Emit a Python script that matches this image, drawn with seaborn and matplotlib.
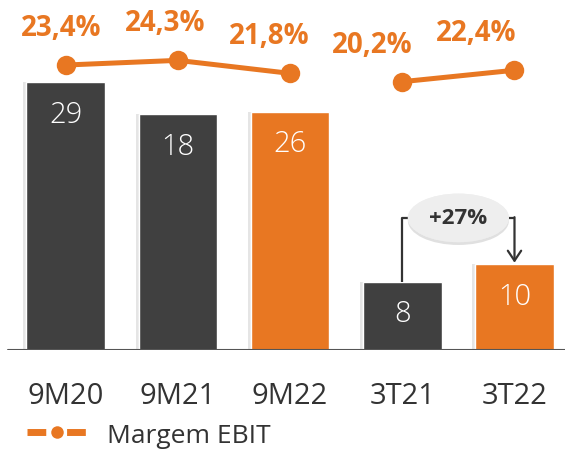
import numpy as np
import pandas as pd
import matplotlib
matplotlib.use("Agg")
import matplotlib.pyplot as plt
import matplotlib.patheffects as pe
from matplotlib.lines import Line2D
import seaborn as sns

# dados
periodos = ["9M20", "9M21", "9M22", "3T21", "3T22"]
ebit = [29, 18, 26, 8, 10]                      # rótulos das barras
altura = [29.0, 25.5, 25.8, 7.4, 9.3]           # altura visual das barras
margem = [23.4, 24.3, 21.8, 20.2, 22.4]         # Margem EBIT (%)
grupo = ["9M", "9M", "9M", "3T", "3T"]
destaque = [False, False, True, False, True]
variacao = "+27%"

laranja = "#E87722"
cinza = "#404040"
texto = "#333333"

sns.set_theme(style="white")
plt.rcParams["font.family"] = ["Open Sans", "DejaVu Sans"]

df = pd.DataFrame({"periodo": periodos, "altura": altura, "margem": margem,
                   "grupo": grupo, "pos": np.arange(len(periodos))})
cores = {p: (laranja if d else cinza) for p, d in zip(periodos, destaque)}

fig = plt.figure(figsize=(5.65, 4.52), dpi=100)
ax = fig.add_axes([0, 101 / 452, 1, 351 / 452])

sns.barplot(data=df, x="periodo", y="altura", hue="periodo", palette=cores,
            legend=False, width=0.70, saturation=1, ax=ax)
for p in ax.patches:
    p.set_path_effects([pe.withSimplePatchShadow(offset=(-2, 0), shadow_rgbFace="#aaaaaa", alpha=0.3), pe.Normal()])

ax.set_xlim(-0.584, 4.45)
ax.set_ylim(0, 38)
ax.axhline(0, xmin=8 / 565, xmax=1, color="#555555", lw=1.5)
for s in ax.spines.values():
    s.set_visible(False)
ax.set_yticks([])
ax.set_xlabel("")
ax.set_ylabel("")
ax.tick_params(axis="x", length=0, pad=22, labelsize=21, labelcolor=texto)

for i, (h, v) in enumerate(zip(altura, ebit)):
    ax.annotate(str(v), (i, h), xytext=(0, -23), textcoords="offset points",
                ha="center", va="center", color="white", fontsize=21, fontweight="light")

# variação 3T21 -> 3T22
nivel = 14.3
ax.plot([3, 3, 3.28], [altura[3], nivel, nivel], color=texto, lw=1.6, solid_capstyle="butt")
ax.plot([3.72, 4], [nivel, nivel], color=texto, lw=1.6)
ax.annotate("", xy=(4, altura[4] + 0.15), xytext=(4, nivel + 0.08),
            arrowprops=dict(arrowstyle="->,head_length=0.6,head_width=0.4", color=texto, lw=1.6,
                            shrinkA=0, shrinkB=0))
t = ax.text(3.5, nivel, variacao, ha="center", va="center", fontsize=16, fontweight="bold",
            color=texto, zorder=5,
            bbox=dict(boxstyle="ellipse,pad=0.3", fc="#EEEEEE", ec="none"))
t.get_bbox_patch().set_path_effects([pe.withSimplePatchShadow(offset=(0, -2), shadow_rgbFace="#999999", alpha=0.3), pe.Normal()])

# margem EBIT
ax2 = ax.twinx()
sns.lineplot(data=df, x="pos", y="margem", units="grupo", estimator=None, color=laranja,
             lw=3.6, marker="o", markersize=14, markeredgewidth=0, ax=ax2, legend=False)
ax2.set_ylim(-31.4, 36.1)
ax2.set_xlim(ax.get_xlim())
ax2.set_yticks([])
ax2.set_ylabel("")
for s in ax2.spines.values():
    s.set_visible(False)

for i, m in enumerate(margem):
    ax2.annotate(f"{m:.1f}%".replace(".", ","), (i, m), xytext=(-3 - 6.1 * i, 27),
                 textcoords="offset points", ha="center", va="center",
                 color=laranja, fontsize=20, fontweight="bold")

handle = Line2D([], [], color=laranja, lw=5, ls=(0, (2.7, 3.0)), marker="o",
                markersize=9, markeredgewidth=0)
fig.legend([handle], ["Margem EBIT"], loc="lower left", bbox_to_anchor=(0.005, -0.045),
           frameon=False, fontsize=19, handlelength=2.3, handletextpad=0.75,
           labelcolor=texto, numpoints=1)

fig.savefig("out.png", dpi=100)
